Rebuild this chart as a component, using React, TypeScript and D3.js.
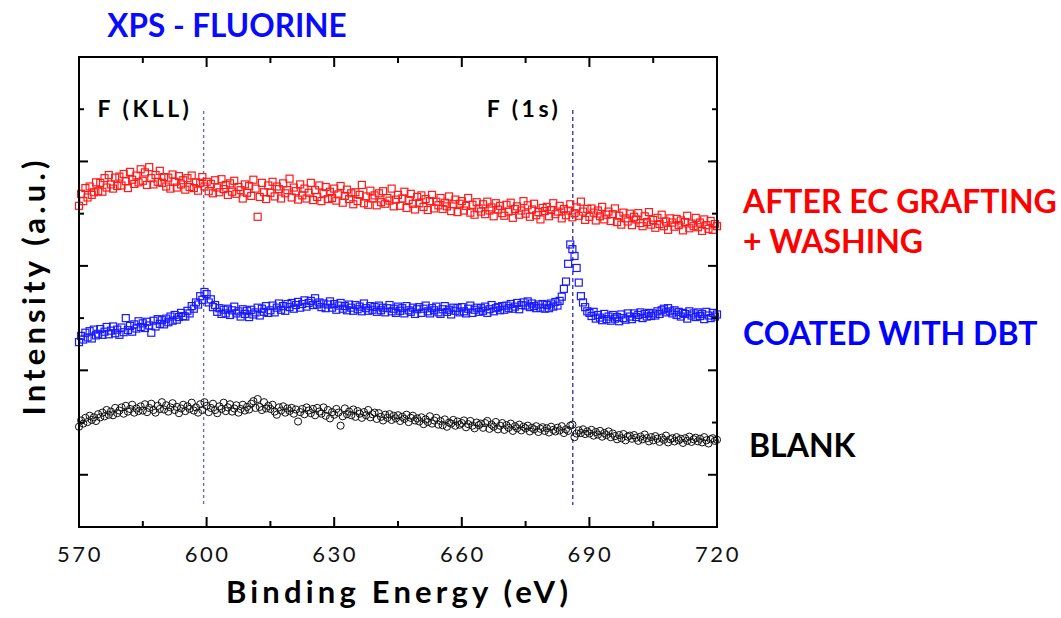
import React from "react";
import * as d3 from "d3";

// binding energy grid, 0.5 eV step
const energy = d3.range(0, 301).map((i) => 570 + i * 0.5);

const afterGrafting = [
  61.5, 63.8, 62.4, 64.9, 63.1, 65.2, 63.6, 64.1, 66.0, 64.3,
  65.9, 64.2, 66.8, 65.0, 67.4, 65.6, 64.8, 66.9, 65.3, 67.1,
  65.4, 67.6, 66.2, 64.9, 68.0, 66.5, 65.7, 67.3, 66.0, 68.5,
  66.3, 67.9, 65.5, 68.9, 66.8, 65.6, 67.4, 66.1, 68.2, 65.9,
  67.0, 65.2, 66.9, 64.8, 67.5, 66.1, 65.0, 67.2, 65.6, 66.4,
  64.6, 66.8, 65.1, 67.3, 64.9, 66.0, 64.4, 65.9, 67.0, 65.2,
  66.1, 64.3, 65.7, 63.9, 66.4, 65.0, 64.1, 66.6, 64.7, 65.5,
  63.6, 65.8, 64.2, 66.3, 63.8, 65.1, 64.5, 62.9, 65.6, 64.0,
  65.3, 63.4, 66.5, 64.8, 59.4, 63.2, 65.9, 64.1, 62.8, 65.4,
  64.0, 66.1, 63.3, 65.2, 64.7, 62.9, 65.8, 63.9, 64.5, 66.7,
  63.1, 65.0, 64.3, 62.7, 65.6, 63.5, 64.8, 62.9, 64.0, 65.9,
  62.6, 64.5, 63.2, 65.4, 62.4, 63.9, 65.1, 62.8, 64.2, 63.0,
  64.8, 62.5, 63.7, 65.3, 62.1, 63.4, 64.6, 62.8, 63.9, 61.8,
  64.1, 62.4, 63.6, 65.5, 62.0, 63.3, 61.7, 64.4, 62.9, 63.5,
  61.6, 63.9, 62.2, 64.3, 61.9, 63.0, 62.5, 64.8, 61.4, 62.7,
  63.6, 61.5, 62.9, 64.2, 61.1, 62.6, 63.8, 61.9, 60.8, 63.2,
  62.0, 63.5, 61.3, 62.8, 60.7, 62.4, 63.6, 61.0, 62.3, 61.6,
  63.0, 60.9, 62.1, 61.4, 63.3, 60.5, 61.8, 62.7, 60.3, 61.9,
  62.4, 60.6, 61.5, 63.0, 60.2, 61.7, 59.8, 62.2, 61.0, 60.4,
  61.8, 59.9, 62.3, 60.6, 61.2, 59.5, 62.0, 60.8, 61.5, 60.1,
  59.6, 61.7, 60.4, 62.1, 59.2, 60.9, 61.4, 59.8, 60.6, 62.4,
  60.0, 61.6, 59.4, 60.8, 61.9, 59.7, 60.3, 58.9, 61.1, 60.5,
  61.3, 59.5, 60.7, 62.0, 59.9, 60.4, 61.5, 59.1, 60.9, 59.7,
  60.6, 61.8, 59.3, 60.1, 61.2, 59.6, 62.3, 60.4, 58.8, 60.9,
  59.4, 61.0, 60.2, 58.7, 60.6, 59.5, 61.3, 58.9, 59.8, 60.4,
  58.6, 59.9, 61.0, 58.4, 59.6, 57.9, 60.2, 59.1, 58.5, 60.0,
  57.8, 59.4, 58.9, 60.1, 58.2, 57.6, 59.5, 58.4, 60.3, 57.9,
  58.8, 57.3, 59.2, 58.0, 59.8, 57.6, 58.5, 56.9, 59.1, 58.3,
  57.5, 59.0, 57.8, 58.7, 56.8, 58.4, 59.6, 57.2, 58.1, 57.6,
  59.2, 57.4, 58.3, 56.7, 58.9, 57.8, 57.1, 58.6, 56.9, 58.0,
  57.6,
];

const coatedDBT = [
  35.4, 36.6, 35.9, 37.2, 36.3, 37.5, 36.1, 37.8, 36.7, 37.0,
  37.9, 36.8, 37.4, 38.3, 36.9, 37.6, 38.4, 37.1, 37.8, 36.8,
  38.2, 37.3, 40.0, 37.7, 38.5, 37.4, 38.8, 38.0, 39.4, 38.3,
  39.0, 38.1, 39.3, 38.6, 37.2, 39.5, 38.4, 39.8, 38.9, 39.6,
  38.8, 39.9, 39.2, 40.3, 39.5, 40.6, 39.7, 40.2, 41.0, 40.4,
  40.3, 41.4, 40.9, 42.3, 41.8, 43.0, 42.6, 44.2, 43.5, 45.0,
  44.6, 43.0, 43.6, 42.1, 42.5, 41.2, 41.9, 40.8, 41.6, 40.9,
  41.8, 40.6, 41.5, 42.2, 40.9, 41.3, 40.3, 41.7, 40.8, 41.4,
  40.2, 41.6, 40.7, 41.1, 42.0, 40.5, 41.8, 41.2, 42.3, 41.0,
  41.5, 42.4, 41.1, 42.0, 42.8, 41.6, 42.3, 41.4, 42.7, 42.1,
  42.9, 41.8, 42.5, 43.1, 42.0, 42.7, 43.4, 42.2, 42.9, 43.3,
  42.5, 43.8, 42.6, 43.0, 42.1, 42.8, 41.9, 42.6, 43.2, 42.0,
  42.7, 41.6, 42.4, 42.9, 41.8, 42.3, 41.5, 42.6, 42.0, 41.4,
  42.5, 41.7, 42.2, 41.3, 42.8, 41.9, 41.4, 42.3, 41.6, 42.1,
  41.2, 42.4, 41.5, 42.0, 41.1, 41.9, 42.5, 41.3, 41.8, 41.0,
  42.2, 41.4, 41.9, 40.9, 42.3, 41.5, 41.2, 42.0, 40.8, 41.7,
  42.1, 41.0, 41.8, 42.4, 41.3, 40.9, 41.9, 41.5, 42.2, 41.1,
  40.8, 41.7, 42.3, 41.2, 41.6, 40.7, 42.0, 41.4, 41.9, 41.1,
  42.1, 41.3, 40.9, 41.8, 42.4, 41.0, 41.6, 42.0, 41.2, 41.9,
  41.4, 42.2, 41.0, 41.7, 42.5, 41.3, 41.9, 42.1, 41.5, 42.3,
  41.6, 42.4, 41.9, 42.7, 41.8, 42.2, 42.9, 41.7, 42.5, 43.0,
  42.4, 43.2, 42.1, 42.8, 42.3, 41.9, 42.6, 42.0, 42.7, 41.8,
  42.5, 41.9, 42.8, 42.2, 43.1, 42.4, 43.3, 44.1, 45.6, 47.0,
  50.4, 54.1, 53.2, 51.9, 49.6, 46.8, 44.2, 43.0, 42.1, 41.3,
  41.0, 40.4, 41.2, 39.9, 40.6, 40.1, 39.6, 40.8, 39.8, 40.3,
  39.5, 40.6, 39.9, 40.2, 39.4, 40.7, 40.0, 39.7, 40.9, 40.3,
  39.8, 40.9, 40.2, 40.6, 41.1, 40.0, 40.8, 40.3, 41.0, 40.4,
  40.9, 40.5, 41.3, 40.8, 41.5, 41.8, 41.1, 41.9, 41.3, 40.9,
  41.5, 40.6, 41.2, 40.3, 41.0, 40.8, 39.9, 41.3, 40.5, 40.9,
  40.2, 41.1, 40.4, 40.8, 39.8, 41.2, 40.5, 40.0, 41.0, 40.3,
  40.7,
];

const blank = [
  19.2, 20.4, 19.8, 20.9, 20.1, 21.3, 20.5, 21.0, 20.3, 21.6,
  21.0, 21.9, 21.2, 22.4, 21.5, 22.1, 21.4, 22.8, 21.8, 22.3,
  22.9, 21.7, 23.2, 22.1, 22.6, 23.4, 21.9, 22.7, 22.2, 23.1,
  22.3, 23.5, 22.0, 22.8, 23.6, 22.4, 21.9, 23.2, 22.6, 23.9,
  22.5, 23.3, 22.1, 22.9, 23.7, 22.4, 23.0, 21.8, 22.7, 23.4,
  22.2, 23.1, 22.6, 23.8, 22.3, 22.9, 21.9, 23.5, 22.4, 23.9,
  23.2, 22.0, 22.8, 23.6, 22.4, 21.8, 23.1, 22.6, 23.8, 22.2,
  22.9, 23.5, 22.1, 22.7, 23.3, 21.9, 22.6, 23.4, 22.3, 23.0,
  22.5, 23.6, 24.1, 22.8, 24.5, 23.0, 22.4, 23.9, 22.7, 23.2,
  22.6, 23.4, 22.1, 21.5, 22.9, 22.3, 23.1, 21.9, 22.7, 22.2,
  22.8, 21.7, 22.5, 20.2, 22.0, 22.6, 21.6, 22.9, 22.3, 21.8,
  22.6, 21.4, 22.8, 22.1, 21.7, 22.9, 21.3, 22.4, 20.8, 22.0,
  21.5, 22.6, 21.9, 19.4, 21.2, 22.7, 21.6, 22.1, 21.4, 22.5,
  21.1, 22.2, 21.7, 20.9, 22.0, 21.4, 22.4, 21.0, 21.6, 21.9,
  20.7, 21.8, 21.1, 20.4, 21.5, 20.9, 21.6, 20.5, 21.3, 20.8,
  21.4, 20.3, 21.1, 20.7, 21.5, 20.1, 20.9, 21.3, 20.4, 20.8,
  20.2, 21.0, 19.7, 20.6, 20.1, 21.2, 19.8, 20.4, 20.9, 19.6,
  20.3, 19.5, 20.6, 19.2, 20.0, 19.8, 20.5, 19.4, 20.2, 19.6,
  19.9, 20.4, 19.1, 19.7, 20.3, 19.4, 18.9, 20.0, 19.5, 19.8,
  19.0, 19.9, 20.3, 18.8, 19.6, 19.2, 20.1, 18.7, 19.4, 19.9,
  18.6, 19.5, 19.0, 19.8, 18.4, 19.3, 18.9, 19.6, 18.5, 19.2,
  18.9, 19.4, 18.3, 19.0, 18.7, 19.3, 18.2, 18.8, 19.1, 18.4,
  18.9, 18.1, 19.2, 18.6, 18.3, 19.0, 18.5, 19.3, 18.0, 18.7,
  18.4, 19.4, 19.6, 17.2, 17.9, 18.5, 18.0, 18.7, 17.8, 18.3,
  17.9, 18.6, 17.5, 18.2, 17.7, 18.4, 17.3, 18.0, 17.6, 18.3,
  17.2, 17.9, 17.4, 16.8, 17.6, 17.0, 17.8, 16.6, 17.3, 17.5,
  16.9, 17.6, 17.1, 16.5, 17.3, 16.8, 17.7, 17.0, 16.4, 17.2,
  16.6, 17.4, 16.9, 16.3, 17.1, 16.7, 17.5, 16.2, 16.8, 17.0,
  16.4, 17.2, 16.6, 16.9, 16.1, 17.0, 16.5, 17.3, 16.3, 16.8,
  17.1, 16.4, 16.9, 16.2, 17.2, 16.6, 16.0, 16.8, 17.0, 16.5,
  16.7,
];

const xMajorTicks = [570, 600, 630, 660, 690, 720];
const xMinorTicks = [585, 615, 645, 675, 705];
const yMajorTicks = [10, 30, 50, 70];
const yMinorTicks = [20, 40, 60, 80];

const peakNames = ["F (KLL)", "F (1s)"];
const peakEnergies = [599.3, 686.1];

const W = 1061;
const H = 618;
const plot = { left: 79, right: 717, top: 57, bottom: 527 };

const x = d3.scaleLinear().domain([570, 720]).range([plot.left, plot.right]);
const y = d3.scaleLinear().domain([0, 90]).range([plot.bottom, plot.top]);

const labelFont = "Lato, 'Open Sans', sans-serif";

export default function App() {
  const sq = 7;
  return (
    <svg width={W} height={H} style={{ position: "absolute", left: 0, top: 0, background: "#fff" }}>
      <text x={227} y={37} fill="#0a0aff" fontFamily={labelFont} fontWeight={700} fontSize={31.5}
        textAnchor="middle">XPS - FLUORINE</text>

      {/* peak markers */}
      <line x1={x(peakEnergies[0])} x2={x(peakEnergies[0])} y1={111} y2={505}
        stroke="#6a6ac4" strokeWidth={1.4} strokeDasharray="3,3" />
      <line x1={x(peakEnergies[1])} x2={x(peakEnergies[1])} y1={110} y2={505}
        stroke="#1a1aa8" strokeWidth={1.2} strokeDasharray="4,3" />
      <text x={145} y={117} fontFamily={labelFont} fontWeight={700} fontSize={23}
        textAnchor="middle" letterSpacing={3.5}>{peakNames[0]}</text>
      <text x={524} y={117} fontFamily={labelFont} fontWeight={700} fontSize={23}
        textAnchor="middle" letterSpacing={3.5}>{peakNames[1]}</text>

      {/* series */}
      <g fill="none" stroke="#ff1a1a" strokeWidth={1.2}>
        {afterGrafting.map((v, i) => (
          <rect key={i} x={x(energy[i]) - sq / 2} y={y(v) - sq / 2} width={sq} height={sq} />
        ))}
      </g>
      <g fill="none" stroke="#1a1aff" strokeWidth={1.2}>
        {coatedDBT.map((v, i) => (
          <rect key={i} x={x(energy[i]) - sq / 2} y={y(v) - sq / 2} width={sq} height={sq} />
        ))}
      </g>
      <g fill="none" stroke="#111" strokeWidth={1}>
        {blank.map((v, i) => (
          <circle key={i} cx={x(energy[i])} cy={y(v)} r={3.6} />
        ))}
      </g>

      {/* frame */}
      <rect x={plot.left} y={plot.top} width={plot.right - plot.left} height={plot.bottom - plot.top}
        fill="none" stroke="#000" strokeWidth={2} />
      <g stroke="#000" strokeWidth={2}>
        {xMajorTicks.map((t) => (
          <g key={t}>
            <line x1={x(t)} x2={x(t)} y1={plot.bottom} y2={plot.bottom - 10} />
            <line x1={x(t)} x2={x(t)} y1={plot.top} y2={plot.top + 10} />
          </g>
        ))}
        {xMinorTicks.map((t) => (
          <g key={t}>
            <line x1={x(t)} x2={x(t)} y1={plot.bottom} y2={plot.bottom - 6} />
            <line x1={x(t)} x2={x(t)} y1={plot.top} y2={plot.top + 6} />
          </g>
        ))}
        {yMajorTicks.map((t) => (
          <g key={t}>
            <line x1={plot.left} x2={plot.left + 9} y1={y(t)} y2={y(t)} />
            <line x1={plot.right} x2={plot.right - 9} y1={y(t)} y2={y(t)} />
          </g>
        ))}
        {yMinorTicks.map((t) => (
          <g key={t}>
            <line x1={plot.left} x2={plot.left + 5} y1={y(t)} y2={y(t)} />
            <line x1={plot.right} x2={plot.right - 5} y1={y(t)} y2={y(t)} />
          </g>
        ))}
      </g>

      {/* x tick labels */}
      {xMajorTicks.map((t) => (
        <text key={t} x={x(t) + 1} y={562} textAnchor="middle" fontFamily={labelFont} fontWeight={400}
          fontSize={22} letterSpacing={2.5} fill="#111">{t}</text>
      ))}

      <text x={397} y={603} textAnchor="middle" fontFamily={labelFont} fontWeight={700} fontSize={31}
        textLength={342} lengthAdjust="spacing">Binding Energy (eV)</text>
      <text transform="translate(45,288) rotate(-90)" textAnchor="middle" fontFamily={labelFont}
        fontWeight={700} fontSize={31} textLength={255} lengthAdjust="spacing">Intensity (a.u.)</text>

      {/* series labels */}
      <g fontFamily={labelFont} fontWeight={700} fontSize={32}>
        <text x={743} y={213} fill="#ff0000">AFTER EC GRAFTING</text>
        <text x={743} y={253} fill="#ff0000">+ WASHING</text>
        <text x={743} y={345} fill="#0000ff">COATED WITH DBT</text>
        <text x={749} y={457} fill="#000">BLANK</text>
      </g>
    </svg>
  );
}
